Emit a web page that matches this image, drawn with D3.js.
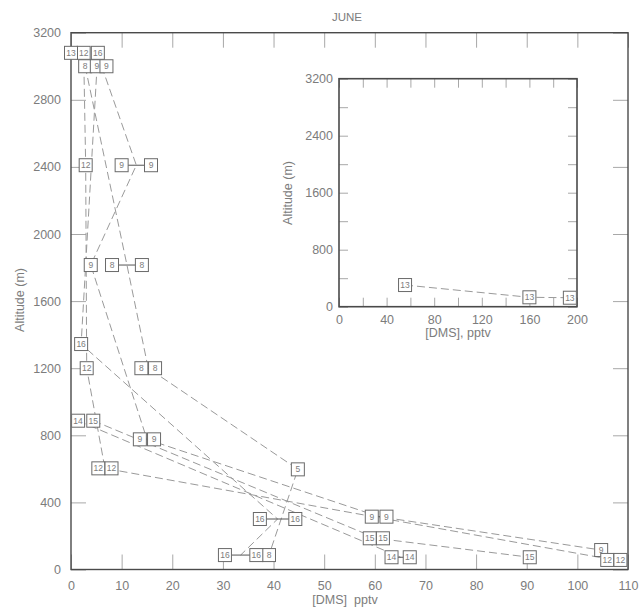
<!DOCTYPE html>
<html>
<head>
<meta charset="utf-8">
<script src="https://cdn.jsdelivr.net/npm/d3@7"></script>
<style>
  body { margin: 0; background: #fff; }
  svg { display: block; }
  text { font-family: "Liberation Sans", Arial, sans-serif; fill: #7c7c7c; }
  .tag text { font-family: "Liberation Sans Narrow", "Liberation Sans", sans-serif; }
</style>
</head>
<body>
<svg id="chart" width="643" height="614"></svg>
<script>
// Axis ticks
const mainXTicks = [0, 10, 20, 30, 40, 50, 60, 70, 80, 90, 100, 110];
const mainYTicks = [0, 400, 800, 1200, 1600, 2000, 2400, 2800, 3200];
const insetXTicks = [0, 40, 80, 120, 160, 200];
const insetXMinor = [20, 60, 100, 140, 180];
const insetYTicks = [0, 800, 1600, 2400, 3200];
const insetYMinor = [400, 1200, 2000, 2800];

// Vertical DMS profiles (pptv) per flight, one entry per sampling altitude (m).
// Two values at one altitude give the range measured at that level.
const flight8 = [
  { alt: 3000, dms: [2.8],        tag: ["8"] },
  { alt: 1815, dms: [8.1, 14.0],  tag: ["8", "8"] },
  { alt: 1200, dms: [13.9, 16.6], tag: ["8", "8"] },
  { alt: 597,  dms: [44.8],       tag: ["5"] },
  { alt: 86,   dms: [39.1],       tag: ["8"] }
];
const flight9 = [
  { alt: 3000, dms: [5.1, 7.0],    tag: ["9", "9"] },
  { alt: 2410, dms: [10.0, 15.8],  tag: ["9", "9"] },
  { alt: 1815, dms: [3.9],         tag: ["9"] },
  { alt: 776,  dms: [13.6, 16.4],  tag: ["9", "9"] },
  { alt: 315,  dms: [59.4, 62.3],  tag: ["9", "9"] },
  { alt: 116,  dms: [104.7],       tag: ["9"] }
];
const flight12 = [
  { alt: 3080, dms: [2.5],          tag: ["12"] },
  { alt: 2410, dms: [2.9],          tag: ["12"] },
  { alt: 1200, dms: [3.1],          tag: ["12"] },
  { alt: 603,  dms: [5.4, 8.0],     tag: ["12", "12"] },
  { alt: 57,   dms: [105.9, 108.5], tag: ["12", "12"] }
];
const flight13 = [
  { alt: 3080, dms: [0.0], tag: ["13"] }
];
const flight14 = [
  { alt: 887, dms: [1.4],        tag: ["14"] },
  { alt: 73,  dms: [63.3, 66.9], tag: ["14", "14"] }
];
const flight15 = [
  { alt: 887, dms: [4.4],        tag: ["15"] },
  { alt: 186, dms: [59.0, 61.6], tag: ["15", "15"] },
  { alt: 73,  dms: [90.6],       tag: ["15"] }
];
const flight16 = [
  { alt: 3080, dms: [5.3],        tag: ["16"] },
  { alt: 1344, dms: [2.0],        tag: ["16"] },
  { alt: 301,  dms: [37.3, 44.3], tag: ["16", "16"] },
  { alt: 86,   dms: [30.4, 36.6], tag: ["16", "16"] }
];
// Flight 13 boundary-layer values run off the main scale
const flight13Low = [
  { alt: 304, dms: [55.5], tag: ["13"] },
  { alt: 132, dms: [160],  tag: ["13"] },
  { alt: 126, dms: [194],  tag: ["13"] }
];

const mainProfiles = [flight8, flight9, flight12, flight13, flight14, flight15, flight16];
const insetProfiles = [flight13Low];

const svg = d3.select("#chart");

const x = d3.scaleLinear().domain([0, 110]).range([71, 628]);
const y = d3.scaleLinear().domain([0, 3200]).range([569.5, 32.7]);
const xi = d3.scaleLinear().domain([0, 200]).range([339, 577]);
const yi = d3.scaleLinear().domain([0, 3200]).range([306.7, 78.7]);

const plain = d3.format("d");

function styleAxis(g, tickColor) {
  g.select(".domain").remove();
  g.selectAll(".tick line").attr("stroke", tickColor).attr("stroke-width", 1);
  g.selectAll(".tick text").attr("fill", "#7c7c7c")
    .style("font-size", "12.5px")
    .style("font-family", "'Liberation Sans', Arial, sans-serif");
}

function drawFrame(xs, ys, opts) {
  const g = svg.append("g");
  const [x0, x1] = xs.range();
  const [y0, y1] = ys.range();

  g.append("g").attr("transform", `translate(0,${y0})`)
    .call(d3.axisBottom(xs).tickValues(opts.xTicks).tickFormat(plain).tickSize(-opts.tick).tickSizeOuter(0).tickPadding(opts.pad + 2))
    .call(a => styleAxis(a, "#a8a8a8"));
  g.append("g").attr("transform", `translate(0,${y1})`)
    .call(d3.axisTop(xs).tickValues(opts.xTicks).tickSize(-opts.tick).tickSizeOuter(0).tickFormat(""))
    .call(a => styleAxis(a, "#a8a8a8"));
  g.append("g").attr("transform", `translate(${x0},0)`)
    .call(d3.axisLeft(ys).tickValues(opts.yTicks).tickFormat(plain).tickSize(-opts.tick).tickSizeOuter(0).tickPadding(opts.pad))
    .call(a => styleAxis(a, "#a8a8a8"));
  g.append("g").attr("transform", `translate(${x1},0)`)
    .call(d3.axisRight(ys).tickValues(opts.yTicks).tickSize(-opts.tick).tickSizeOuter(0).tickFormat(""))
    .call(a => styleAxis(a, "#a8a8a8"));

  if (opts.xMinor) {
    g.append("g").attr("transform", `translate(0,${y0})`)
      .call(d3.axisBottom(xs).tickValues(opts.xMinor).tickSize(-opts.tick).tickSizeOuter(0).tickFormat(""))
      .call(a => styleAxis(a, "#a8a8a8"));
    g.append("g").attr("transform", `translate(0,${y1})`)
      .call(d3.axisTop(xs).tickValues(opts.xMinor).tickSize(-opts.tick).tickSizeOuter(0).tickFormat(""))
      .call(a => styleAxis(a, "#a8a8a8"));
  }
  if (opts.yMinor) {
    g.append("g").attr("transform", `translate(${x0},0)`)
      .call(d3.axisLeft(ys).tickValues(opts.yMinor).tickSize(-opts.tick).tickSizeOuter(0).tickFormat(""))
      .call(a => styleAxis(a, "#a8a8a8"));
    g.append("g").attr("transform", `translate(${x1},0)`)
      .call(d3.axisRight(ys).tickValues(opts.yMinor).tickSize(-opts.tick).tickSizeOuter(0).tickFormat(""))
      .call(a => styleAxis(a, "#a8a8a8"));
  }

  g.append("rect")
    .attr("x", x0).attr("y", y1)
    .attr("width", x1 - x0).attr("height", y0 - y1)
    .attr("fill", "none").attr("stroke", "#4a4a4a").attr("stroke-width", opts.frame);
  return g;
}

function drawProfiles(profiles, xs, ys) {
  const layer = svg.append("g");
  const centre = lv => d3.mean(lv.dms, v => xs(v));
  const line = d3.line().x(centre).y(lv => ys(lv.alt));

  // dashed profile lines through each level
  layer.selectAll("path.profile")
    .data(profiles)
    .join("path")
    .attr("class", "profile")
    .attr("d", line)
    .attr("fill", "none")
    .attr("stroke", "#9a9a9a")
    .attr("stroke-width", 1)
    .attr("stroke-dasharray", "8,4");

  const levels = profiles.flat();

  // solid range bars where two values share one altitude
  layer.selectAll("line.range")
    .data(levels.filter(lv => lv.dms.length > 1))
    .join("line")
    .attr("class", "range")
    .attr("x1", lv => xs(d3.min(lv.dms)))
    .attr("x2", lv => xs(d3.max(lv.dms)))
    .attr("y1", lv => ys(lv.alt))
    .attr("y2", lv => ys(lv.alt))
    .attr("stroke", "#555")
    .attr("stroke-width", 1);

  // boxed flight numbers on each measurement
  const marks = levels.flatMap(lv => lv.dms.map((v, i) => ({ v, alt: lv.alt, tag: lv.tag[i] })));
  const box = 13;
  const tags = layer.selectAll("g.tag")
    .data(marks)
    .join("g")
    .attr("class", "tag")
    .attr("transform", d => `translate(${xs(d.v)},${ys(d.alt)})`);
  tags.append("rect")
    .attr("x", -box / 2).attr("y", -box / 2)
    .attr("width", box).attr("height", box)
    .attr("fill", "#fff")
    .attr("stroke", "#6a6a6a")
    .attr("stroke-width", 1);
  tags.append("text")
    .attr("text-anchor", "middle")
    .attr("dy", "0.35em")
    .style("font-size", "8.5px")
    .attr("fill", "#8a8a8a")
    .text(d => d.tag);
}

// main panel
drawFrame(x, y, { xTicks: mainXTicks, yTicks: mainYTicks, tick: 15, pad: 10, frame: 1.4 });
drawProfiles(mainProfiles, x, y);

svg.append("text")
  .attr("x", 347).attr("y", 21)
  .attr("text-anchor", "middle")
  .style("font-size", "11.5px")
  .text("JUNE");

svg.append("text")
  .attr("x", 345).attr("y", 604)
  .attr("text-anchor", "middle")
  .style("font-size", "12.5px")
  .attr("xml:space", "preserve")
  .text("[DMS]  pptv");

svg.append("text")
  .attr("transform", "translate(24,300) rotate(-90)")
  .attr("text-anchor", "middle")
  .style("font-size", "12.5px")
  .text("Altitude (m)");

// inset panel for the off-scale low-level values
svg.append("rect")
  .attr("x", xi.range()[0]).attr("y", yi.range()[1])
  .attr("width", xi.range()[1] - xi.range()[0])
  .attr("height", yi.range()[0] - yi.range()[1])
  .attr("fill", "#fff");
drawFrame(xi, yi, { xTicks: insetXTicks, yTicks: insetYTicks, xMinor: insetXMinor, yMinor: insetYMinor, tick: 9, pad: 6, frame: 1.6 });
drawProfiles(insetProfiles, xi, yi);

svg.append("text")
  .attr("x", 458).attr("y", 337)
  .attr("text-anchor", "middle")
  .style("font-size", "12.5px")
  .text("[DMS], pptv");

svg.append("text")
  .attr("transform", "translate(292,193) rotate(-90)")
  .attr("text-anchor", "middle")
  .style("font-size", "12.5px")
  .text("Altitude (m)");
</script>
</body>
</html>
